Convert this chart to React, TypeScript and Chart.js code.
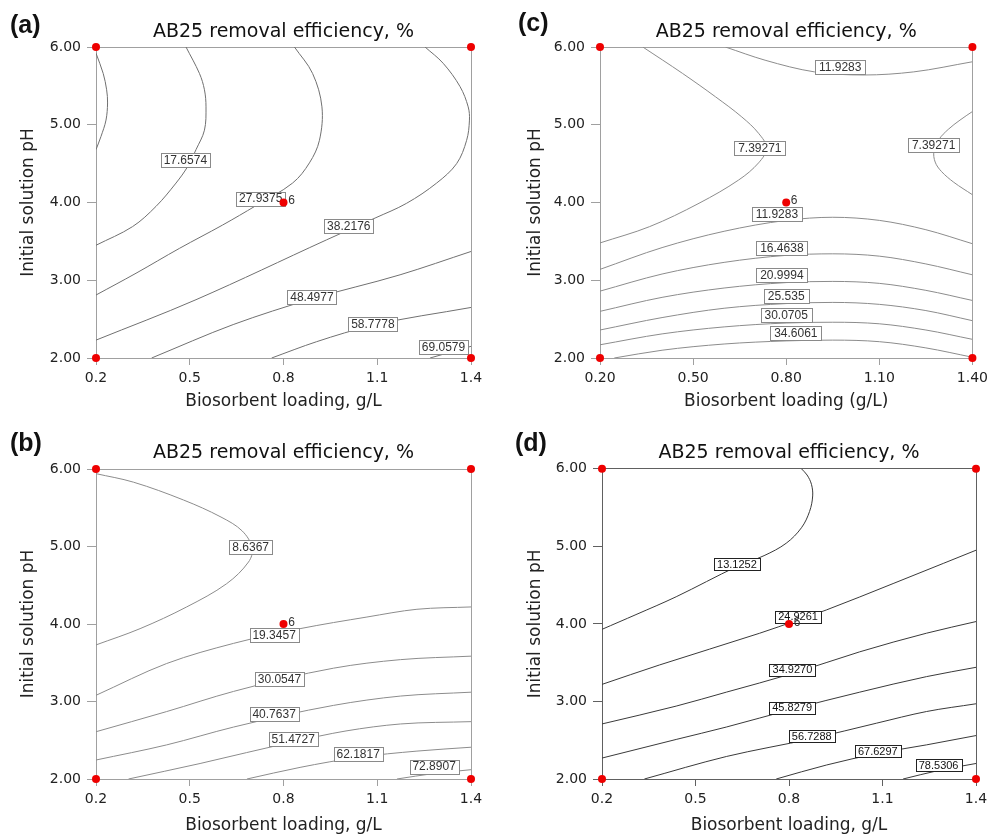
import React, { useEffect, useRef } from 'react';
import { Chart, registerables } from 'chart.js';

Chart.register(...registerables);

// ---------- shared axes ----------
const xTickValues = [0.2, 0.5, 0.8, 1.1, 1.4];
const xTickLabels1 = ['0.2', '0.5', '0.8', '1.1', '1.4'];
const xTickLabels2 = ['0.20', '0.50', '0.80', '1.10', '1.40'];
const yTickValues = [2, 3, 4, 5, 6];
const yTickLabels = ['2.00', '3.00', '4.00', '5.00', '6.00'];

const designX = [0.2, 0.2, 1.4, 1.4, 0.8];
const designY = [2, 6, 2, 6, 4];
const centerRunLabel = '6';

// ---------- panel (a) ----------
const aLine1X = [0.2, 0.223, 0.234, 0.237, 0.232, 0.216, 0.2];
const aLine1Y = [5.92, 5.66, 5.45, 5.28, 5.06, 4.85, 4.68];
const aLine2X = [0.488, 0.531, 0.547, 0.552, 0.547, 0.52, 0.493, 0.456, 0.392, 0.317, 0.2];
const aLine2Y = [6.0, 5.66, 5.45, 5.23, 4.93, 4.68, 4.46, 4.25, 3.95, 3.69, 3.45];
const aLine3X = [0.2, 0.328, 0.467, 0.605, 0.712, 0.829, 0.883, 0.915, 0.923, 0.893, 0.835];
const aLine3Y = [2.81, 3.09, 3.41, 3.71, 3.96, 4.25, 4.51, 4.8, 5.23, 5.66, 6.0];
const aLine4X = [0.2, 0.52, 0.938, 1.093, 1.194, 1.29, 1.354, 1.386, 1.395, 1.391, 1.365, 1.311, 1.253];
const aLine4Y = [2.23, 2.75, 3.52, 3.8, 3.99, 4.25, 4.5, 4.8, 5.06, 5.23, 5.49, 5.79, 6.0];
const aLine5X = [0.378, 0.639, 0.89, 1.173, 1.4];
const aLine5Y = [2.0, 2.43, 2.76, 3.07, 3.37];
const aLine6X = [0.762, 0.906, 1.085, 1.4];
const aLine6Y = [2.0, 2.21, 2.42, 2.65];
const aLine7X = [1.269, 1.33, 1.4];
const aLine7Y = [2.0, 2.07, 2.15];
const aLabelText = ['17.6574', '27.9375', '38.2176', '48.4977', '58.7778', '69.0579'];
const aLabelX = [0.486, 0.727, 1.009, 0.891, 1.086, 1.312];
const aLabelY = [4.55, 4.05, 3.7, 2.78, 2.44, 2.14];

// ---------- panel (b) ----------
const bLine1X = [0.2, 0.32, 0.48, 0.6, 0.668, 0.7, 0.688, 0.618, 0.49, 0.341, 0.2];
const bLine1Y = [5.94, 5.83, 5.6, 5.38, 5.2, 4.98, 4.8, 4.52, 4.22, 3.94, 3.73];
const bLine2X = [0.2, 0.426, 0.64, 0.853, 1.067, 1.227, 1.4];
const bLine2Y = [3.08, 3.49, 3.75, 3.94, 4.09, 4.19, 4.22];
const bLine3X = [0.2, 0.426, 0.64, 0.96, 1.174, 1.4];
const bLine3Y = [2.61, 2.87, 3.13, 3.43, 3.54, 3.585];
const bLine4X = [0.2, 0.426, 0.64, 0.96, 1.174, 1.4];
const bLine4Y = [2.245, 2.44, 2.67, 2.95, 3.07, 3.12];
const bLine5X = [0.304, 0.533, 0.831, 1.0, 1.174, 1.4];
const bLine5Y = [2.0, 2.2, 2.48, 2.62, 2.71, 2.74];
const bLine6X = [0.683, 0.853, 1.039, 1.227, 1.4];
const bLine6Y = [2.0, 2.15, 2.28, 2.36, 2.41];
const bLine7X = [1.163, 1.28, 1.4];
const bLine7Y = [2.0, 2.07, 2.12];
const bLabelText = ['8.6367', '19.3457', '30.0547', '40.7637', '51.4727', '62.1817', '72.8907'];
const bLabelX = [0.695, 0.77, 0.787, 0.77, 0.831, 1.039, 1.282];
const bLabelY = [4.99, 3.86, 3.29, 2.84, 2.52, 2.32, 2.16];

// ---------- panel (c) ----------
const cLine1X = [0.338, 0.466, 0.572, 0.657, 0.711, 0.737, 0.711, 0.647, 0.519, 0.36, 0.2];
const cLine1Y = [6.0, 5.66, 5.36, 5.1, 4.89, 4.7, 4.51, 4.29, 3.99, 3.69, 3.48];
const cLine2X = [1.4, 1.36, 1.322, 1.292, 1.276, 1.28, 1.3, 1.34, 1.4];
const cLine2Y = [5.17, 5.06, 4.94, 4.81, 4.66, 4.52, 4.4, 4.26, 4.1];
const cLine3X = [0.604, 0.732, 0.891, 1.051, 1.211, 1.4];
const cLine3Y = [6.0, 5.83, 5.68, 5.64, 5.68, 5.81];
const cBandX = [0.2, 0.4, 0.6, 0.8, 0.95, 1.1, 1.25, 1.4];
const cLine4Y = [3.14, 3.42, 3.63, 3.77, 3.81, 3.77, 3.65, 3.47];
const cLine5Y = [2.86, 3.08, 3.23, 3.32, 3.34, 3.31, 3.21, 3.07];
const cLine6Y = [2.6, 2.78, 2.9, 2.97, 2.985, 2.96, 2.87, 2.74];
const cLine7Y = [2.36, 2.52, 2.64, 2.7, 2.715, 2.69, 2.61, 2.48];
const cLine8Y = [2.17, 2.31, 2.4, 2.45, 2.46, 2.44, 2.36, 2.24];
const cLine9X = [0.246, 0.4, 0.6, 0.8, 0.95, 1.1, 1.25, 1.4];
const cLine9Y = [2.0, 2.1, 2.18, 2.22, 2.23, 2.21, 2.13, 2.01];
const cLabelText = ['11.9283', '7.39271', '7.39271', '11.9283', '16.4638', '20.9994', '25.535', '30.0705', '34.6061'];
const cLabelX = [0.974, 0.715, 1.275, 0.77, 0.786, 0.786, 0.8, 0.8, 0.831];
const cLabelY = [5.74, 4.7, 4.74, 3.85, 3.41, 3.07, 2.8, 2.55, 2.32];

// ---------- panel (d) ----------
const dLine1X = [0.2, 0.309, 0.438, 0.633, 0.72, 0.791, 0.84, 0.866, 0.876, 0.872, 0.858, 0.84];
const dLine1Y = [3.93, 4.12, 4.35, 4.74, 4.88, 5.04, 5.24, 5.45, 5.65, 5.8, 5.92, 6.0];
const dLine2X = [0.2, 0.384, 0.706, 0.829, 0.92, 1.134, 1.295, 1.4];
const dLine2Y = [3.22, 3.47, 3.88, 4.05, 4.18, 4.52, 4.78, 4.95];
const dLine3X = [0.2, 0.438, 0.599, 0.811, 1.027, 1.241, 1.4];
const dLine3Y = [2.71, 2.94, 3.12, 3.36, 3.64, 3.88, 4.03];
const dLine4X = [0.2, 0.438, 0.599, 0.81, 1.027, 1.241, 1.4];
const dLine4Y = [2.27, 2.51, 2.67, 2.9, 3.12, 3.32, 3.44];
const dLine5X = [0.336, 0.599, 0.873, 1.081, 1.241, 1.4];
const dLine5Y = [2.0, 2.29, 2.52, 2.72, 2.87, 2.97];
const dLine6X = [0.759, 0.92, 1.084, 1.241, 1.4];
const dLine6Y = [2.0, 2.18, 2.33, 2.44, 2.56];
const dLine7X = [1.166, 1.28, 1.4];
const dLine7Y = [2.0, 2.11, 2.2];
const dLabelText = ['13.1252', '24.9261', '34.9270', '45.8279', '56.7288', '67.6297', '78.5306'];
const dLabelX = [0.633, 0.829, 0.811, 0.81, 0.873, 1.085, 1.28];
const dLabelY = [4.77, 4.09, 3.41, 2.92, 2.55, 2.36, 2.18];

const chartTitle = 'AB25 removal efficiency, %';
const yTitle = 'Initial solution pH';

const SANS = '"DejaVu Sans", sans-serif';

const panels = [
  {
    letter: '(a)', letterLeft: 10, letterTop: 12,
    xTitle: 'Biosorbent loading, g/L', xTickLabels: xTickLabels1,
    lines: [[aLine1X, aLine1Y], [aLine2X, aLine2Y], [aLine3X, aLine3Y], [aLine4X, aLine4Y], [aLine5X, aLine5Y], [aLine6X, aLine6Y], [aLine7X, aLine7Y]],
    labelText: aLabelText, labelX: aLabelX, labelY: aLabelY,
    lineColor: '#707070', frameColor: '#a0a0a0', labelBorder: '#8a8a8a', labelColor: '#333',
    labelFont: '12px "Liberation Sans", Arial, sans-serif', labelH: 14, labelPad: 3,
    left: 0, top: 0, width: 496, height: 418,
    plotLeft: 96, plotRight: 471, titlePad: { top: 20.6, bottom: 3.6 },
    xAxisH: 60, xTitlePadB: 6.3, yTitlePadT: 18.3,
  },
  {
    letter: '(b)', letterLeft: 10, letterTop: 430,
    xTitle: 'Biosorbent loading, g/L', xTickLabels: xTickLabels1,
    lines: [[bLine1X, bLine1Y], [bLine2X, bLine2Y], [bLine3X, bLine3Y], [bLine4X, bLine4Y], [bLine5X, bLine5Y], [bLine6X, bLine6Y], [bLine7X, bLine7Y]],
    labelText: bLabelText, labelX: bLabelX, labelY: bLabelY,
    lineColor: '#8c8c8c', frameColor: '#a0a0a0', labelBorder: '#8a8a8a', labelColor: '#333',
    labelFont: '12px "Liberation Sans", Arial, sans-serif', labelH: 14, labelPad: 3,
    left: 0, top: 418, width: 496, height: 418,
    plotLeft: 96, plotRight: 471, titlePad: { top: 23.9, bottom: 4.3 },
    xAxisH: 57, xTitlePadB: 0.5, yTitlePadT: 18.1,
  },
  {
    letter: '(c)', letterLeft: 518, letterTop: 10,
    xTitle: 'Biosorbent loading (g/L)', xTickLabels: xTickLabels2,
    lines: [[cLine1X, cLine1Y], [cLine2X, cLine2Y], [cLine3X, cLine3Y], [cBandX, cLine4Y], [cBandX, cLine5Y], [cBandX, cLine6Y], [cBandX, cLine7Y], [cBandX, cLine8Y], [cLine9X, cLine9Y]],
    labelText: cLabelText, labelX: cLabelX, labelY: cLabelY,
    lineColor: '#8c8c8c', frameColor: '#a0a0a0', labelBorder: '#8a8a8a', labelColor: '#333',
    labelFont: '12px "Liberation Sans", Arial, sans-serif', labelH: 14, labelPad: 4,
    left: 496, top: 0, width: 497, height: 418,
    plotLeft: 104, plotRight: 480, titlePad: { top: 20.3, bottom: 3.9 },
    xAxisH: 60, xTitlePadB: 6.3, yTitlePadT: 29.5,
  },
  {
    letter: '(d)', letterLeft: 515, letterTop: 430,
    xTitle: 'Biosorbent loading, g/L', xTickLabels: xTickLabels1,
    lines: [[dLine1X, dLine1Y], [dLine2X, dLine2Y], [dLine3X, dLine3Y], [dLine4X, dLine4Y], [dLine5X, dLine5Y], [dLine6X, dLine6Y], [dLine7X, dLine7Y]],
    labelText: dLabelText, labelX: dLabelX, labelY: dLabelY,
    lineColor: '#3a3a3a', frameColor: '#606060', labelBorder: '#222', labelColor: '#111',
    labelFont: '11px "Liberation Sans", Arial, sans-serif', labelH: 12, labelPad: 3,
    left: 496, top: 418, width: 497, height: 418,
    plotLeft: 106, plotRight: 480, titlePad: { top: 23.3, bottom: 4.7 },
    xAxisH: 57, xTitlePadB: 0.5, yTitlePadT: 29.5,
  },
];

function isIncreasing(xs: number[]) {
  for (let i = 1; i < xs.length; i++) if (xs[i] <= xs[i - 1]) return false;
  return true;
}

function makePlugin(p: any) {
  return {
    id: 'contourLabels',
    beforeDatasetDraw(chart: any, args: any) {
      if (args.index !== 0) return;
      const ctx = chart.ctx;
      const xs = chart.scales.x;
      const ys = chart.scales.y;
      ctx.save();
      ctx.font = p.labelFont;
      ctx.textAlign = 'center';
      ctx.textBaseline = 'middle';
      p.labelText.forEach((t: string, i: number) => {
        const cx = xs.getPixelForValue(p.labelX[i]);
        const cy = ys.getPixelForValue(p.labelY[i]);
        const w = Math.round(ctx.measureText(t).width + p.labelPad * 2);
        const h = p.labelH;
        const x0 = Math.round(cx - w / 2) + 0.5;
        const y0 = Math.round(cy - h / 2) + 0.5;
        ctx.fillStyle = '#ffffff';
        ctx.fillRect(x0, y0, w, h);
        ctx.strokeStyle = p.labelBorder;
        ctx.lineWidth = 1;
        ctx.strokeRect(x0, y0, w, h);
        ctx.fillStyle = p.labelColor;
        ctx.fillText(t, cx, cy + 0.5);
      });
      ctx.restore();
    },
    afterDatasetsDraw(chart: any) {
      const ctx = chart.ctx;
      const xs = chart.scales.x;
      const ys = chart.scales.y;
      const cx = xs.getPixelForValue(designX[4]);
      const cy = ys.getPixelForValue(designY[4]);
      ctx.save();
      ctx.font = '12px "Liberation Sans", Arial, sans-serif';
      ctx.fillStyle = '#333';
      ctx.textAlign = 'center';
      ctx.textBaseline = 'middle';
      ctx.fillText(centerRunLabel, cx + 8, cy - 1.5);
      ctx.restore();
    },
  };
}

function Panel({ p }: { p: any }) {
  const ref = useRef<HTMLCanvasElement | null>(null);
  useEffect(() => {
    if (!ref.current) return;
    const edgeColor = (min: number, max: number) => (c: any) =>
      c.tick && (Math.abs(c.tick.value - min) < 1e-9 || Math.abs(c.tick.value - max) < 1e-9) ? p.frameColor : 'rgba(0,0,0,0)';
    const datasets: any[] = [
      {
        label: 'design',
        data: designX.map((x, i) => ({ x, y: designY[i] })),
        showLine: false,
        pointRadius: 4,
        pointHoverRadius: 4,
        pointBackgroundColor: '#ee0000',
        pointBorderColor: '#ee0000',
        pointBorderWidth: 0,
        clip: false,
      },
      ...p.lines.map(([lx, ly]: number[][]) => {
        const mono = isIncreasing(lx);
        return {
          data: lx.map((x, i) => ({ x, y: ly[i] })),
          showLine: true,
          pointRadius: 0,
          pointHoverRadius: 0,
          borderColor: p.lineColor,
          borderWidth: 1,
          cubicInterpolationMode: mono ? 'monotone' : 'default',
          tension: mono ? 0 : 0.35,
          capBezierPoints: false,
          fill: false,
        };
      }),
    ];
    const chart = new Chart(ref.current, {
      type: 'scatter',
      data: { datasets },
      options: {
        animation: false,
        responsive: false,
        events: [],
        layout: { padding: { left: 0, top: 0, right: p.width - p.plotRight, bottom: 0 } },
        plugins: {
          legend: { display: false },
          tooltip: { enabled: false },
          title: {
            display: true,
            text: chartTitle,
            fullSize: false,
            color: '#111',
            font: { family: SANS, size: 19, weight: 'normal', lineHeight: 1.2 },
            padding: p.titlePad,
          },
        },
        scales: {
          x: {
            type: 'linear',
            min: 0.2,
            max: 1.4,
            afterBuildTicks: (s: any) => { s.ticks = xTickValues.map((v) => ({ value: v })); },
            afterFit: (s: any) => { s.height = p.xAxisH; },
            ticks: {
              autoSkip: false, maxRotation: 0, minRotation: 0, padding: 5, color: '#222',
              font: { family: SANS, size: 14 },
              callback: (_v: any, i: number) => p.xTickLabels[i],
            },
            grid: { color: edgeColor(0.2, 1.4), tickColor: p.frameColor, tickLength: 7, lineWidth: 1 },
            border: { color: p.frameColor, width: 1 },
            title: {
              display: true, text: p.xTitle, color: '#222',
              font: { family: SANS, size: 17, lineHeight: 1.2 },
              padding: { top: 0, bottom: p.xTitlePadB },
            },
          },
          y: {
            type: 'linear',
            min: 2,
            max: 6,
            afterBuildTicks: (s: any) => { s.ticks = yTickValues.map((v) => ({ value: v })); },
            afterFit: (s: any) => { s.width = p.plotLeft; },
            ticks: {
              autoSkip: false, padding: 6, color: '#222',
              font: { family: SANS, size: 14 },
              callback: (_v: any, i: number) => yTickLabels[i],
            },
            grid: { color: edgeColor(2, 6), tickColor: p.frameColor, tickLength: 9, lineWidth: 1 },
            border: { color: p.frameColor, width: 1 },
            title: {
              display: true, text: yTitle, color: '#222',
              font: { family: SANS, size: 17, lineHeight: 1.2 },
              padding: { top: p.yTitlePadT, bottom: 0 },
            },
          },
        },
      } as any,
      plugins: [makePlugin(p)],
    } as any);
    return () => chart.destroy();
  }, [p]);
  return (
    <>
      <canvas
        ref={ref}
        width={p.width}
        height={p.height}
        style={{ position: 'absolute', left: p.left, top: p.top, width: p.width, height: p.height }}
      />
      <div
        style={{
          position: 'absolute', left: p.letterLeft, top: p.letterTop,
          font: 'bold 25px "Liberation Sans", Arial, sans-serif', lineHeight: 1, color: '#111',
        }}
      >
        {p.letter}
      </div>
    </>
  );
}

export default function App() {
  return (
    <div style={{ position: 'absolute', left: 0, top: 0, width: 993, height: 836, background: '#fff', overflow: 'hidden' }}>
      {panels.map((p) => (
        <Panel key={p.letter} p={p} />
      ))}
    </div>
  );
}
